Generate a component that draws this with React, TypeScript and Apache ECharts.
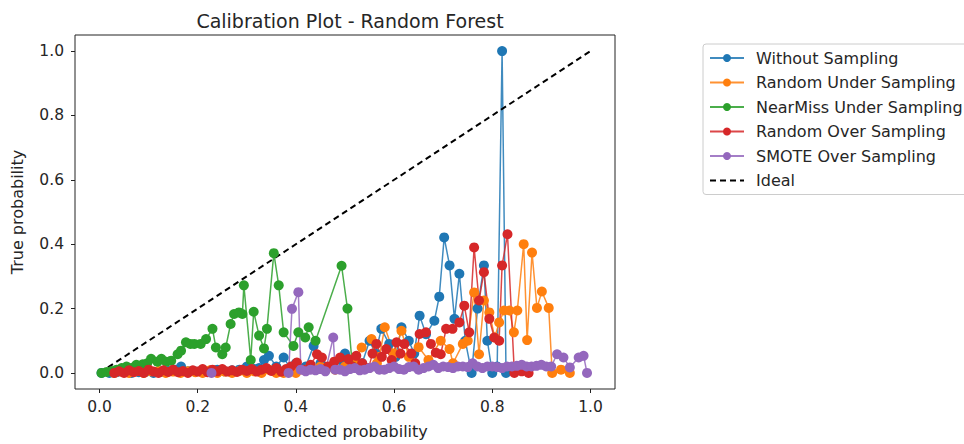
import React, { useEffect, useRef } from "react";
import * as echarts from "echarts";

const seriesNames = [
  "Without Sampling",
  "Random Under Sampling",
  "NearMiss Under Sampling",
  "Random Over Sampling",
  "SMOTE Over Sampling",
  "Ideal",
];
const colors = ["#1f77b4", "#ff7f0e", "#2ca02c", "#d62728", "#9467bd", "#000000"];

const xTicks = [0, 0.2, 0.4, 0.6, 0.8, 1.0];
const yTicks = [0, 0.2, 0.4, 0.6, 0.8, 1.0];

const withoutSampling: number[][] = [
  [0.004, 0.0], [0.02, 0.0], [0.035, 0.002], [0.05, 0.003], [0.065, 0.0], [0.08, 0.002],
  [0.095, 0.004], [0.11, 0.0], [0.125, 0.003], [0.14, 0.006], [0.155, 0.01], [0.166, 0.02],
  [0.18, 0.005], [0.195, 0.004], [0.21, 0.002], [0.225, 0.006], [0.24, 0.01], [0.255, 0.005],
  [0.27, 0.008], [0.285, 0.01], [0.3, 0.02], [0.315, 0.012], [0.325, 0.015], [0.335, 0.04],
  [0.345, 0.053], [0.36, 0.02], [0.375, 0.048], [0.39, 0.01], [0.4, 0.03], [0.42, 0.02],
  [0.436, 0.084], [0.45, 0.03], [0.47, 0.02], [0.49, 0.04], [0.5, 0.06], [0.52, 0.04],
  [0.535, 0.03], [0.55, 0.1], [0.562, 0.06], [0.574, 0.137], [0.59, 0.09], [0.603, 0.05],
  [0.615, 0.142], [0.63, 0.1], [0.641, 0.06], [0.652, 0.178], [0.665, 0.12], [0.682, 0.162],
  [0.692, 0.237], [0.702, 0.421], [0.713, 0.334], [0.723, 0.168], [0.733, 0.308], [0.745, 0.1],
  [0.758, 0.0], [0.77, 0.2], [0.783, 0.334], [0.79, 0.1], [0.8, 0.0], [0.81, 0.02],
  [0.82, 1.0], [0.828, 0.0],
];

const randomUnder: number[][] = [
  [0.03, 0.0], [0.045, 0.004], [0.06, 0.0], [0.075, 0.006], [0.09, 0.0], [0.105, 0.005],
  [0.12, 0.006], [0.135, 0.0], [0.15, 0.004], [0.165, 0.0], [0.18, 0.005], [0.195, 0.002],
  [0.21, 0.0], [0.225, 0.008], [0.24, 0.0], [0.255, 0.004], [0.27, 0.0], [0.285, 0.006],
  [0.3, 0.0], [0.315, 0.005], [0.33, 0.0], [0.345, 0.01], [0.36, 0.0], [0.375, 0.0],
  [0.39, 0.005], [0.4, 0.0], [0.42, 0.01], [0.45, 0.02], [0.48, 0.01], [0.5, 0.02],
  [0.52, 0.04], [0.534, 0.079], [0.554, 0.105], [0.565, 0.03], [0.57, 0.05], [0.581, 0.142],
  [0.6, 0.06], [0.615, 0.131], [0.63, 0.05], [0.65, 0.08], [0.67, 0.04], [0.695, 0.1],
  [0.713, 0.074], [0.72, 0.03], [0.74, 0.09], [0.75, 0.1], [0.763, 0.25], [0.773, 0.058],
  [0.783, 0.225], [0.794, 0.188], [0.805, 0.11], [0.814, 0.157], [0.824, 0.194], [0.835, 0.194],
  [0.844, 0.126], [0.851, 0.194], [0.864, 0.4], [0.871, 0.102], [0.881, 0.374], [0.891, 0.202],
  [0.901, 0.253], [0.915, 0.202], [0.922, 0.0], [0.94, 0.01], [0.958, 0.0],
];

const nearMiss: number[][] = [
  [0.004, 0.0], [0.015, 0.003], [0.025, 0.006], [0.035, 0.01], [0.045, 0.015], [0.055, 0.02],
  [0.065, 0.015], [0.075, 0.025], [0.088, 0.027], [0.097, 0.03], [0.105, 0.044], [0.118, 0.035],
  [0.126, 0.044], [0.136, 0.035], [0.146, 0.038], [0.159, 0.058], [0.166, 0.069], [0.176, 0.095],
  [0.185, 0.09], [0.193, 0.09], [0.206, 0.09], [0.217, 0.105], [0.23, 0.137], [0.237, 0.079],
  [0.25, 0.058], [0.257, 0.079], [0.267, 0.152], [0.274, 0.183], [0.284, 0.188], [0.291, 0.183],
  [0.294, 0.272], [0.308, 0.04], [0.314, 0.19], [0.325, 0.116], [0.335, 0.076], [0.341, 0.137],
  [0.355, 0.372], [0.365, 0.272], [0.375, 0.126], [0.395, 0.084], [0.405, 0.126], [0.419, 0.11],
  [0.426, 0.142], [0.44, 0.1], [0.493, 0.333], [0.505, 0.2], [0.515, 0.02],
];

const randomOver: number[][] = [
  [0.03, 0.0], [0.04, 0.005], [0.05, 0.0], [0.06, 0.008], [0.07, 0.002], [0.08, 0.006],
  [0.09, 0.0], [0.1, 0.01], [0.11, 0.004], [0.12, 0.0], [0.13, 0.008], [0.14, 0.003],
  [0.15, 0.01], [0.16, 0.002], [0.17, 0.006], [0.18, 0.0], [0.19, 0.008], [0.2, 0.004],
  [0.21, 0.012], [0.22, 0.002], [0.23, 0.01], [0.24, 0.005], [0.25, 0.012], [0.26, 0.004],
  [0.27, 0.008], [0.28, 0.003], [0.29, 0.01], [0.3, 0.006], [0.31, 0.012], [0.32, 0.004],
  [0.33, 0.01], [0.34, 0.015], [0.35, 0.006], [0.36, 0.015], [0.37, 0.004], [0.38, 0.012],
  [0.39, 0.02], [0.402, 0.032], [0.415, 0.01], [0.43, 0.025], [0.443, 0.058], [0.453, 0.048],
  [0.465, 0.02], [0.478, 0.035], [0.49, 0.048], [0.507, 0.043], [0.515, 0.02], [0.523, 0.053],
  [0.535, 0.03], [0.548, 0.015], [0.556, 0.06], [0.564, 0.09], [0.575, 0.05], [0.584, 0.074],
  [0.595, 0.04], [0.605, 0.095], [0.613, 0.06], [0.621, 0.09], [0.635, 0.06], [0.643, 0.03],
  [0.652, 0.121], [0.665, 0.126], [0.675, 0.09], [0.685, 0.063], [0.695, 0.058], [0.706, 0.137],
  [0.719, 0.137], [0.733, 0.157], [0.743, 0.209], [0.753, 0.126], [0.763, 0.39], [0.773, 0.225],
  [0.783, 0.313], [0.794, 0.168], [0.804, 0.11], [0.814, 0.1], [0.82, 0.334], [0.831, 0.431],
  [0.845, 0.0], [0.86, 0.005], [0.874, 0.0],
];

const smoteOver: number[][] = [
  [0.228, 0.0], [0.385, 0.0], [0.392, 0.199], [0.405, 0.251], [0.41, 0.01], [0.42, 0.005],
  [0.43, 0.01], [0.44, 0.008], [0.45, 0.012], [0.46, 0.005], [0.476, 0.11], [0.48, 0.01],
  [0.49, 0.01], [0.5, 0.005], [0.51, 0.012], [0.52, 0.015], [0.53, 0.008], [0.54, 0.01],
  [0.55, 0.015], [0.56, 0.02], [0.57, 0.01], [0.58, 0.01], [0.59, 0.015], [0.6, 0.02],
  [0.61, 0.012], [0.62, 0.01], [0.63, 0.018], [0.64, 0.02], [0.65, 0.01], [0.66, 0.015],
  [0.67, 0.02], [0.68, 0.025], [0.69, 0.015], [0.7, 0.02], [0.71, 0.018], [0.72, 0.015],
  [0.73, 0.02], [0.74, 0.02], [0.75, 0.018], [0.76, 0.03], [0.77, 0.02], [0.78, 0.015],
  [0.79, 0.02], [0.8, 0.02], [0.81, 0.018], [0.82, 0.015], [0.83, 0.02], [0.84, 0.02],
  [0.85, 0.022], [0.86, 0.025], [0.87, 0.02], [0.88, 0.02], [0.89, 0.022], [0.9, 0.025],
  [0.91, 0.02], [0.92, 0.02], [0.932, 0.058], [0.945, 0.048], [0.958, 0.017], [0.976, 0.048],
  [0.986, 0.053], [0.993, 0.0],
];

const ideal: number[][] = [
  [0, 0], [1, 1],
];

const dataSets = [withoutSampling, randomUnder, nearMiss, randomOver, smoteOver];

export default function App() {
  const ref = useRef<HTMLDivElement>(null);
  useEffect(() => {
    if (!ref.current) return;
    const chart = echarts.init(ref.current, undefined, { renderer: "svg" });
    const font = "DejaVu Sans";
    const textColor = "#262626";
    const lineSeries: any[] = dataSets.map((d, i) => ({
      name: seriesNames[i],
      type: "line",
      data: d,
      symbol: "circle",
      symbolSize: 10,
      showSymbol: true,
      lineStyle: { width: 1.5, color: colors[i], opacity: 0.85 },
      itemStyle: { color: colors[i] },
      emphasis: { disabled: true },
    }));
    lineSeries.push({
      name: seriesNames[5],
      type: "line",
      data: ideal,
      symbol: "none",
      lineStyle: { width: 2, color: "#000", type: [6, 4] },
      itemStyle: { color: "#000" },
      emphasis: { disabled: true },
    });
    chart.setOption({
      animation: false,
      title: {
        text: "Calibration Plot - Random Forest",
        left: 345,
        top: 6,
        textAlign: "center",
        textStyle: { fontFamily: font, fontSize: 19, fontWeight: "normal", color: textColor },
      },
      grid: {
        left: 75,
        right: 349,
        top: 35,
        bottom: 55,
        show: true,
        borderColor: "#222",
        borderWidth: 1,
        backgroundColor: "transparent",
      },
      legend: {
        orient: "vertical",
        left: 703,
        top: 44,
        padding: [6, 10, 6, 6],
        itemWidth: 34,
        itemHeight: 10,
        itemGap: 8.5,
        borderColor: "#cccccc",
        borderWidth: 1,
        borderRadius: 3,
        backgroundColor: "#fff",
        data: [
          ...seriesNames.slice(0, 5),
          { name: seriesNames[5], itemStyle: { opacity: 0 } },
        ],
        textStyle: {
          fontFamily: font,
          fontSize: 16,
          color: textColor,
          lineHeight: 16,
          padding: [0, 0, 0, 7],
        },
      },
      xAxis: {
        type: "value",
        min: -0.05,
        max: 1.05,
        name: "Predicted probability",
        nameLocation: "middle",
        nameGap: 34,
        nameTextStyle: { fontFamily: font, fontSize: 16, color: textColor },
        axisLine: { show: false, onZero: false },
        splitLine: { show: false },
        axisTick: { show: true, length: 4, customValues: xTicks, lineStyle: { color: "#222" } },
        axisLabel: {
          customValues: xTicks,
          margin: 10,
          fontFamily: font,
          fontSize: 15.5,
          color: textColor,
          formatter: (v: number) => v.toFixed(1),
        },
      },
      yAxis: {
        type: "value",
        min: -0.05,
        max: 1.05,
        name: "True probability",
        nameLocation: "middle",
        nameGap: 50,
        nameTextStyle: { fontFamily: font, fontSize: 16, color: textColor },
        axisLine: { show: false, onZero: false },
        splitLine: { show: false },
        axisTick: { show: true, length: 4, customValues: yTicks, lineStyle: { color: "#222" } },
        axisLabel: {
          customValues: yTicks,
          margin: 11,
          fontFamily: font,
          fontSize: 15.5,
          color: textColor,
          formatter: (v: number) => v.toFixed(1),
        },
      },
      series: lineSeries,
    });
    return () => chart.dispose();
  }, []);
  return (
    <div
      ref={ref}
      style={{ position: "fixed", left: 0, top: 0, width: 964, height: 444, background: "#fff" }}
    />
  );
}
